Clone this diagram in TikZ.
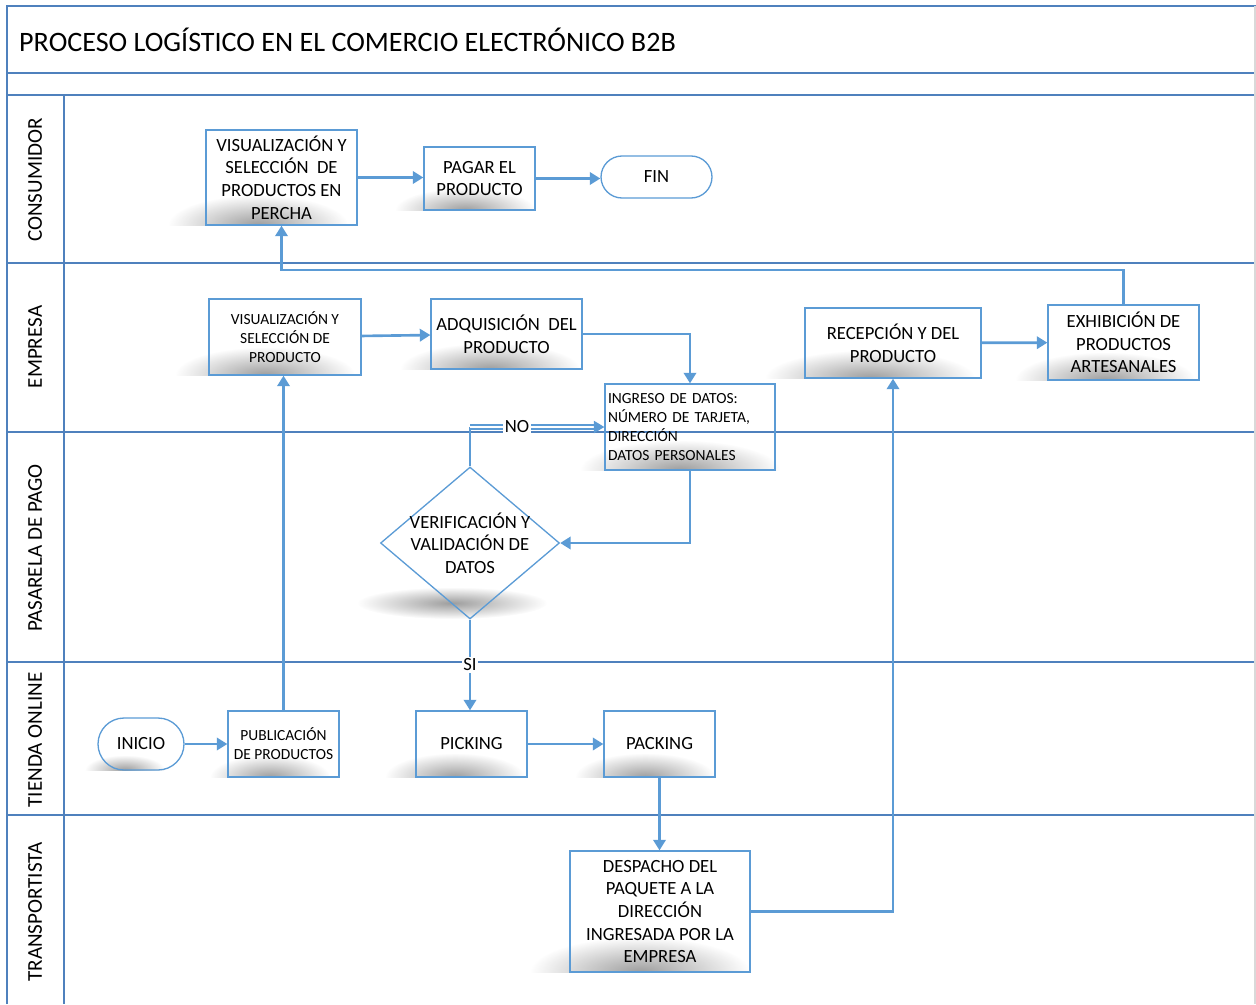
\documentclass[tikz,border=0pt]{standalone}
\usepackage{fontspec}
\setmainfont{Carlito}
\usetikzlibrary{arrows.meta,shapes.geometric,fadings}
\definecolor{flowblue}{RGB}{91,155,213}
\definecolor{laneblue}{RGB}{79,129,189}
\tikzfading[name=softblob, inner color=transparent!15, outer color=transparent!100]
\newcommand{\procbox}[6][]{\node[procbox,minimum width=#4,minimum height=#5,#1] at (#2) (#3) {#6}}
\newcommand{\boxshadow}[4]{\begin{scope}\clip (#1-#3,#2) rectangle (#1+#3,#2-#4); \fill[black!45,path fading=softblob] (#1,#2) ellipse [x radius=#3*0.02cm, y radius=#4*0.02cm];\end{scope}}

\begin{document}
\begin{tikzpicture}[x=0.02cm,y=-0.02cm,
	procbox/.style={draw=flowblue,line width=0.75pt,align=center,inner sep=2pt,font=\fontsize{10.6}{12.9}\selectfont},
	smalltxt/.style={font=\fontsize{8.8}{10.8}\selectfont},
	flow/.style={draw=flowblue,line width=1.5pt,-{Triangle[length=6pt,width=7pt]}},
	lane/.style={laneblue,line width=0.8pt},
	lanelabel/.style={rotate=90,font=\fontsize{12}{14}\selectfont},
	lbl/.style={fill=white,text=black,inner sep=1pt,font=\fontsize{10.6}{12.9}\selectfont}]
	\useasboundingbox (0,0) rectangle (1256,1004);
	
	% marco y carriles
	\draw[lane] (7,1004) -- (7,6) -- (1256,6);
	\draw[lane] (7,73) -- (1256,73);
	\draw[lane] (7,95) -- (1256,95);
	\draw[lane] (64,95) -- (64,1004);
	\foreach \yy in {263,432,662,815}
		\draw[lane] (7,\yy) -- (1256,\yy);
	\draw[black!15,line width=0.8pt] (1255,6) -- (1255,1004);
	
	\node[anchor=west,font=\fontsize{16}{19}\selectfont] (titulo) at (13,40) {PROCESO LOGÍSTICO EN EL COMERCIO ELECTRÓNICO B2B};
	
	\node[lanelabel] (consumidor) at (35,180) {CONSUMIDOR};
	\node[lanelabel] (empresa) at (35,347) {EMPRESA};
	\node[lanelabel] (pasarela) at (35,548) {PASARELA DE PAGO};
	\node[lanelabel] (tienda) at (35,740) {TIENDA ONLINE};
	\node[lanelabel] (transportista) at (35,912) {TRANSPORTISTA};
	
	% sombras
	\boxshadow{258}{225}{90}{30}
	\boxshadow{465}{210}{70}{22}
	\boxshadow{265}{375}{90}{28}
	\boxshadow{490}{369}{90}{26}
	\boxshadow{680}{470}{100}{30}
	\boxshadow{870}{378}{105}{28}
	\boxshadow{1105}{380}{90}{28}
	\boxshadow{125}{770}{40}{15}
	\boxshadow{270}{777}{60}{22}
	\boxshadow{455}{777}{70}{24}
	\boxshadow{645}{777}{70}{24}
	\boxshadow{640}{972}{110}{35}
	\fill[black!45,path fading=softblob] (452,603) ellipse [x radius=95*0.02cm, y radius=16*0.02cm];
	
	% consumidor
	\procbox{281.5,177.5}{vispercha}{3.02cm}{1.9cm}{VISUALIZACIÓN Y\\SELECCIÓN\ \ DE\\PRODUCTOS EN\\PERCHA};
	\procbox{479.5,178.5}{pagar}{2.22cm}{1.26cm}{PAGAR EL\\PRODUCTO};
	\procbox[rounded corners=0.42cm]{656.5,177}{fin}{2.22cm}{0.84cm}{FIN};
	
	% empresa
	\procbox[smalltxt]{285,337}{visprod}{3.04cm}{1.52cm}{VISUALIZACIÓN Y\\SELECCIÓN DE\\PRODUCTO};
	\procbox{506.5,334}{adquis}{3.02cm}{1.4cm}{ADQUISICIÓN\ \ DEL\\PRODUCTO};
	\procbox[smalltxt,align=left,text width=3.28cm,inner sep=0.06cm]{690,427}{ingreso}{3.4cm}{1.72cm}{INGRESO DE DATOS:\\NÚMERO DE TARJETA,\\DIRECCIÓN\\DATOS PERSONALES};
	\procbox{893,343}{recep}{3.52cm}{1.4cm}{RECEPCIÓN Y DEL\\PRODUCTO};
	\procbox{1123.5,342.5}{exhib}{3.02cm}{1.5cm}{EXHIBICIÓN DE\\PRODUCTOS\\ARTESANALES};
	
	% pasarela de pago
	\node[diamond,draw=flowblue,line width=0.75pt,minimum width=3.58cm,minimum height=3.04cm,inner sep=0pt] (verif) at (470,543) {};
	\node[align=center,font=\fontsize{10.6}{12.9}\selectfont] (veriftxt) at (verif) {VERIFICACIÓN Y\\VALIDACIÓN DE\\DATOS};
	
	% tienda online
	\procbox[rounded corners=0.52cm]{141,744}{inicio}{1.72cm}{1.04cm}{INICIO};
	\procbox[smalltxt]{283.5,744}{public}{2.22cm}{1.32cm}{PUBLICACIÓN\\DE PRODUCTOS};
	\procbox{471.5,744}{picking}{2.22cm}{1.32cm}{PICKING};
	\procbox{659.5,744}{packing}{2.22cm}{1.32cm}{PACKING};
	
	% transportista
	\procbox{660,911.5}{despacho}{3.6cm}{2.42cm}{DESPACHO DEL\\PAQUETE A LA\\DIRECCIÓN\\INGRESADA POR LA\\EMPRESA};
	
	% conectores
	\draw[flow] (vispercha.east) -- (vispercha.east -| pagar.west);
	\draw[flow] (pagar.east) -- (pagar.east -| fin.west);
	\draw[flow] (exhib.north) -- (exhib.north |- 0,270) -| (vispercha.south);
	\draw[flow] (visprod) -- (adquis);
	\draw[flow] (adquis.east) -| (ingreso.north);
	\draw[flow] (ingreso.south) |- (verif.east);
	\coordinate (nocorner) at (verif.north |- ingreso.west);
	\draw[flowblue,line width=1.5pt] (verif.north) -- (nocorner);
	\draw[flow,double=white,double distance=1.2pt,line width=0.9pt] (nocorner) -- node[lbl,pos=0.35] (no) {NO} (ingreso.west);
	\draw[flow] (verif.south) -- node[lbl,pos=0.5] (si) {SI} (verif.south |- picking.north);
	\draw[flow] (inicio) -- (public);
	\draw[flow] (public.north) -- (public.north |- visprod.south);
	\draw[flow] (picking) -- (packing);
	\draw[flow] (packing.south) -- (packing.south |- despacho.north);
	\draw[flow] (despacho.east) -| (recep.south);
	\draw[flow] (recep) -- (exhib);
\end{tikzpicture}
\end{document}
